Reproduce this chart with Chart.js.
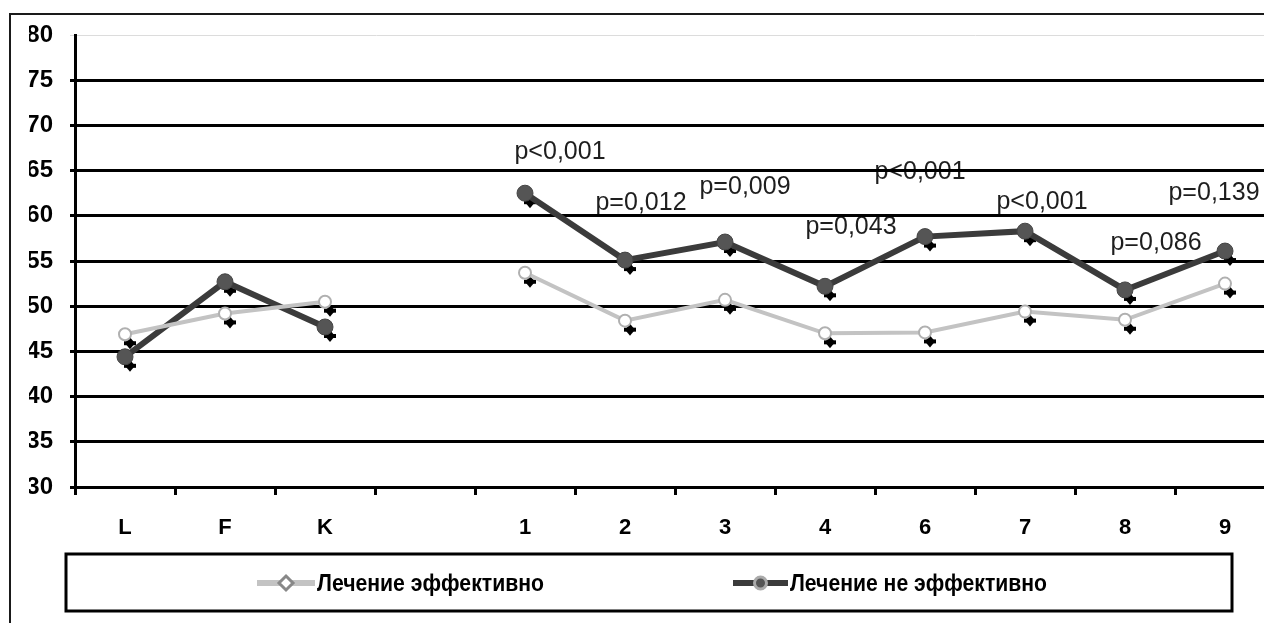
<!DOCTYPE html>
<html>
<head>
<meta charset="utf-8">
<script src="https://cdn.jsdelivr.net/npm/chart.js@4/dist/chart.umd.min.js"></script>
<style>
  html, body { margin: 0; padding: 0; overflow: hidden; background: #fff; }
  #wrap { position: absolute; left: 0; top: 0; width: 1300px; height: 623px; }
</style>
</head>
<body>
<div id="wrap"><canvas id="c"></canvas></div>
<script>
// ---- data ----
const categories = ['L', 'F', 'K', '', '1', '2', '3', '4', '6', '7', '8', '9'];
const seriesNames = ['Лечение эффективно', 'Лечение не эффективно'];
const effective    = [46.9, 49.2, 50.5, null, 53.7, 48.4, 50.7, 47.0, 47.1, 49.4, 48.5, 52.5];
const notEffective = [44.4, 52.7, 47.7, null, 62.5, 55.1, 57.1, 52.2, 57.7, 58.3, 51.8, 56.1];
const yTicks = { min: 30, max: 80, step: 5 };
const pLabels      = [null, null, null, null, 'p<0,001', 'p=0,012', 'p=0,009', 'p=0,043', 'p<0,001', 'p<0,001', 'p=0,086', 'p=0,139'];
const pLabelLevel  = [null, null, null, null, 67.1, 61.4, 63.2, 58.7, 64.8, 61.5, 57.0, 62.5];
const pLabelShift  = [0, 0, 0, 0, 35, 16, 20, 26, -5, 17, 31, -11];

const SANS = '"Liberation Sans", Arial, sans-serif';

const decor = {
  id: 'decor',
  beforeDraw(chart) {
    const ctx = chart.ctx;
    ctx.save();
    // outer frame
    ctx.strokeStyle = '#1a1a1a';
    ctx.lineWidth = 2;
    ctx.strokeRect(10, 14, 1400, 800);
    // p-value labels (under the grid lines)
    const xs = chart.scales.x, ys = chart.scales.y;
    ctx.font = '25px ' + SANS;
    ctx.fillStyle = '#1e1e1e';
    ctx.textAlign = 'center';
    ctx.textBaseline = 'middle';
    pLabels.forEach((t, i) => {
      if (!t) return;
      ctx.fillText(t, xs.getPixelForValue(i) + pLabelShift[i], ys.getPixelForValue(pLabelLevel[i]));
    });
    ctx.restore();
  },
  beforeDatasetsDraw(chart) {
    // dark offset "shadow" marks under each point
    const ctx = chart.ctx;
    ctx.save();
    ctx.fillStyle = '#000';
    chart.data.datasets.forEach((ds, di) => {
      const meta = chart.getDatasetMeta(di);
      meta.data.forEach((p, i) => {
        if (ds.data[i] == null) return;
        const x = p.x + 5, y = p.y + 9;
        ctx.beginPath();
        ctx.moveTo(x, y - 6); ctx.lineTo(x + 5, y); ctx.lineTo(x, y + 6); ctx.lineTo(x - 5, y);
        ctx.closePath();
        ctx.fill();
        ctx.fillRect(x - 6, y - 2, 12, 4);
      });
    });
    ctx.restore();
  },
  afterDraw(chart) {
    const ctx = chart.ctx;
    ctx.save();
    // legend box
    ctx.strokeStyle = '#000';
    ctx.lineWidth = 3;
    ctx.strokeRect(66, 554, 1166, 57);
    const items = [
      { x0: 257, x1: 315, w: 227, ds: chart.data.datasets[0], kind: 'diamond' },
      { x0: 733, x1: 788, w: 257, ds: chart.data.datasets[1], kind: 'circle' }
    ];
    const yc = 583;
    items.forEach(it => {
      ctx.strokeStyle = it.ds.borderColor;
      ctx.lineWidth = 6;
      ctx.beginPath(); ctx.moveTo(it.x0, yc); ctx.lineTo(it.x1, yc); ctx.stroke();
      const cx = (it.x0 + it.x1) / 2;
      if (it.kind === 'diamond') {
        ctx.fillStyle = '#fff'; ctx.strokeStyle = '#888'; ctx.lineWidth = 3;
        ctx.beginPath();
        ctx.moveTo(cx, yc - 7); ctx.lineTo(cx + 7, yc); ctx.lineTo(cx, yc + 7); ctx.lineTo(cx - 7, yc);
        ctx.closePath(); ctx.fill(); ctx.stroke();
      } else {
        ctx.fillStyle = '#555'; ctx.strokeStyle = '#aaa'; ctx.lineWidth = 3;
        ctx.beginPath(); ctx.arc(cx, yc, 6, 0, Math.PI * 2); ctx.fill(); ctx.stroke();
      }
      // condensed bold legend text
      ctx.fillStyle = '#000';
      ctx.font = 'bold 24px ' + SANS;
      ctx.textAlign = 'left';
      ctx.textBaseline = 'middle';
      const mw = ctx.measureText(it.ds.label).width;
      const sx = Math.min(1, it.w / mw);
      ctx.save();
      ctx.translate(it.x1 + 2, yc + 1);
      ctx.scale(sx, 1);
      ctx.fillText(it.ds.label, 0, 0);
      ctx.restore();
    });
    ctx.restore();
  }
};

new Chart(document.getElementById('c'), {
  type: 'line',
  data: {
    labels: categories,
    datasets: [
      {
        label: seriesNames[0],
        data: effective,
        borderColor: '#c3c3c3',
        borderWidth: 4,
        pointStyle: 'circle',
        pointRadius: 6,
        pointBackgroundColor: '#ffffff',
        pointBorderColor: '#b0b0b0',
        pointBorderWidth: 2,
        spanGaps: false,
        tension: 0
      },
      {
        label: seriesNames[1],
        data: notEffective,
        borderColor: '#3b3b3b',
        borderWidth: 6,
        pointStyle: 'circle',
        pointRadius: 8,
        pointBackgroundColor: '#555555',
        pointBorderColor: '#444444',
        pointBorderWidth: 1,
        spanGaps: false,
        tension: 0
      }
    ]
  },
  options: {
    responsive: true,
    maintainAspectRatio: false,
    animation: false,
    layout: { padding: { left: 29, right: 25, top: 35, bottom: 86 } },
    plugins: {
      legend: { display: false },
      tooltip: { enabled: false }
    },
    scales: {
      x: {
        type: 'category',
        offset: true,
        grid: {
          display: true,
          offset: true,
          drawOnChartArea: false,
          drawTicks: true,
          tickLength: 8,
          color: '#000',
          lineWidth: 3
        },
        border: { display: true, color: '#000', width: 3 },
        ticks: {
          color: '#000',
          padding: 20,
          font: { family: SANS, size: 22, weight: 'bold' },
          maxRotation: 0,
          autoSkip: false
        },
        afterFit(s) { s.height = 50; }
      },
      y: {
        min: yTicks.min,
        max: yTicks.max,
        grid: {
          color: c => (c.tick && c.tick.value === yTicks.max ? '#dcdcdc' : '#000'),
          lineWidth: c => (c.tick && c.tick.value === yTicks.max ? 1 : 3),
          tickLength: 5,
          drawTicks: true
        },
        border: { display: true, color: '#000', width: 3 },
        ticks: {
          stepSize: yTicks.step,
          color: '#000',
          padding: 17,
          font: { family: SANS, size: 24, weight: 'bold' }
        },
        afterFit(s) { s.width = 46; }
      }
    }
  },
  plugins: [decor]
});
</script>
</body>
</html>
